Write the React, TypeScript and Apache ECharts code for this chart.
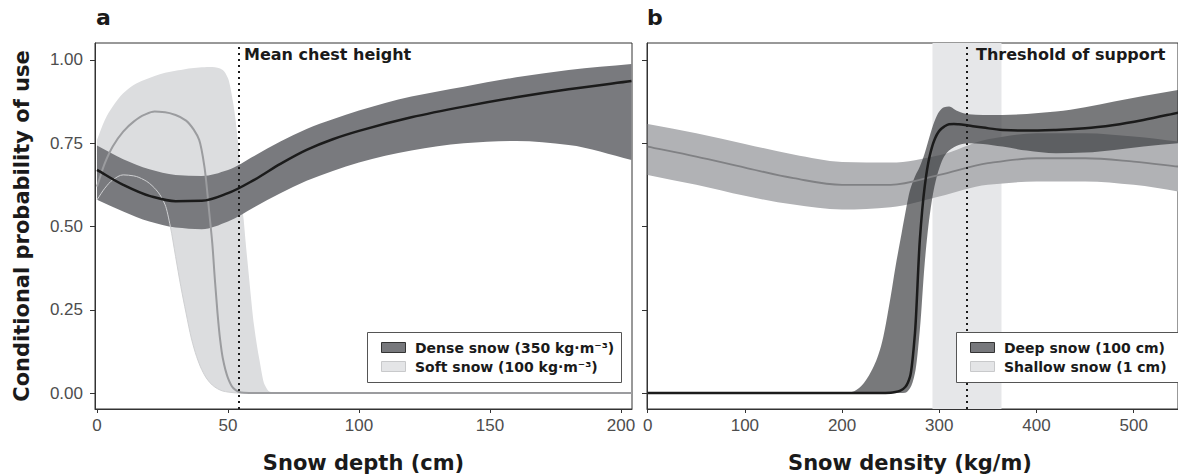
import React, { useEffect, useRef } from 'react';
import * as echarts from 'echarts';

// ---------- Panel a : snow depth ----------
const aTicksX = [0, 50, 100, 150, 200];
const aTicksY = [0, 0.25, 0.5, 0.75, 1];
const chestHeight = 54.2;

const aDenseX = [0, 10, 20, 30, 40, 50, 60, 70, 80, 90, 100, 120, 140, 160, 180, 204];
const aDenseMean = [0.670, 0.625, 0.592, 0.576, 0.577, 0.600, 0.640, 0.688, 0.730, 0.762, 0.787, 0.828, 0.860, 0.888, 0.912, 0.937];
const aDenseLo = [0.580, 0.545, 0.515, 0.497, 0.492, 0.515, 0.558, 0.600, 0.637, 0.667, 0.692, 0.728, 0.750, 0.757, 0.745, 0.700];
const aDenseHi = [0.743, 0.702, 0.672, 0.655, 0.652, 0.670, 0.712, 0.755, 0.793, 0.822, 0.848, 0.890, 0.920, 0.948, 0.970, 0.988];

const aSoftX = [0, 3, 6, 10, 14, 18, 22, 26, 28, 30, 32, 34, 36, 38, 40, 42, 44, 46, 48, 50, 52, 54, 56, 58, 60, 62, 64, 66, 70, 100, 150, 204];
const aSoftHi = [0.76, 0.82, 0.86, 0.90, 0.925, 0.94, 0.952, 0.962, 0.965, 0.968, 0.970, 0.973, 0.975, 0.977, 0.978, 0.979, 0.979, 0.977, 0.970, 0.945, 0.870, 0.740, 0.520, 0.350, 0.200, 0.100, 0.025, 0.004, 0, 0, 0, 0];
const aSoftLo = [0.58, 0.615, 0.64, 0.655, 0.652, 0.64, 0.615, 0.565, 0.50, 0.41, 0.32, 0.24, 0.165, 0.11, 0.07, 0.042, 0.024, 0.013, 0.006, 0.003, 0.001, 0, 0, 0, 0, 0, 0, 0, 0, 0, 0, 0];
const aSoftMeanX = [0, 3, 6, 10, 14, 18, 22, 26, 30, 34, 37, 39, 41, 43, 44, 45, 46, 47, 48, 50, 52, 54, 56, 60, 100, 150, 204];
const aSoftMean = [0.62, 0.69, 0.74, 0.785, 0.815, 0.835, 0.845, 0.843, 0.835, 0.818, 0.79, 0.76, 0.68, 0.53, 0.45, 0.34, 0.24, 0.16, 0.105, 0.045, 0.015, 0.004, 0.001, 0, 0, 0, 0];

// ---------- Panel b : snow density ----------
const bTicksX = [0, 100, 200, 300, 400, 500];
const threshold = 328;
const thresholdBand = [293, 364];

const bShallowX = [0, 50, 100, 150, 200, 250, 300, 350, 400, 450, 500, 546];
const bShallowMean = [0.740, 0.710, 0.677, 0.645, 0.625, 0.625, 0.655, 0.690, 0.705, 0.705, 0.695, 0.680];
const bShallowHi = [0.808, 0.780, 0.748, 0.716, 0.694, 0.692, 0.714, 0.762, 0.780, 0.780, 0.770, 0.755];
const bShallowLo = [0.655, 0.625, 0.592, 0.566, 0.551, 0.558, 0.590, 0.625, 0.635, 0.635, 0.625, 0.605];

const bDeepX = [0, 100, 200, 210, 220, 230, 240, 250, 255, 260, 265, 270, 275, 280, 285, 290, 295, 300, 305, 310, 315, 320, 330, 345, 365, 390, 420, 450, 480, 510, 546];
const bDeepHi = [0, 0, 0.0005, 0.003, 0.022, 0.065, 0.14, 0.29, 0.38, 0.46, 0.54, 0.61, 0.65, 0.68, 0.72, 0.77, 0.815, 0.845, 0.858, 0.86, 0.853, 0.845, 0.837, 0.835, 0.835, 0.838, 0.845, 0.858, 0.875, 0.892, 0.91];
const bDeepMean = [0, 0, 0, 0, 0, 0, 0, 0.001, 0.003, 0.007, 0.018, 0.05, 0.18, 0.46, 0.62, 0.71, 0.76, 0.787, 0.80, 0.807, 0.808, 0.807, 0.803, 0.797, 0.79, 0.788, 0.79, 0.795, 0.805, 0.82, 0.842];
const bDeepLo = [0, 0, 0, 0, 0, 0, 0, 0, 0, 0, 0.001, 0.015, 0.06, 0.19, 0.39, 0.53, 0.62, 0.675, 0.71, 0.728, 0.738, 0.745, 0.75, 0.748, 0.74, 0.728, 0.72, 0.722, 0.73, 0.74, 0.75];

// ---------- styles ----------
const BOLD = '"DejaVu Sans", Verdana, sans-serif';
const SANS = '"Liberation Sans", Arial, sans-serif';

const pairs = (xs: number[], ys: number[]) => xs.map((x, i) => [x, ys[i]]);

// monotone cubic segments (Fritsch–Carlson) through pixel points with increasing x
function monoSegs(p: number[][]) {
  const n = p.length;
  const d: number[] = [], m: number[] = [];
  for (let i = 0; i < n - 1; i++) {
    d.push(p[i + 1][0] - p[i][0]);
    m.push((p[i + 1][1] - p[i][1]) / (p[i + 1][0] - p[i][0] || 1e-9));
  }
  const t: number[] = new Array(n).fill(0);
  t[0] = m[0];
  t[n - 1] = m[n - 2];
  for (let i = 1; i < n - 1; i++) {
    if (m[i - 1] * m[i] <= 0) t[i] = 0;
    else t[i] = (3 * (d[i - 1] + d[i])) / ((2 * d[i] + d[i - 1]) / m[i - 1] + (d[i] + 2 * d[i - 1]) / m[i]);
  }
  const segs: number[][][] = [];
  for (let i = 0; i < n - 1; i++) {
    const h = d[i] / 3;
    segs.push([p[i], [p[i][0] + h, p[i][1] + t[i] * h], [p[i + 1][0] - h, p[i + 1][1] - t[i + 1] * h], p[i + 1]]);
  }
  return segs;
}
const f = (v: number) => v.toFixed(2);
function forwardPath(p: number[][]) {
  return monoSegs(p).map(s => `C${f(s[1][0])},${f(s[1][1])} ${f(s[2][0])},${f(s[2][1])} ${f(s[3][0])},${f(s[3][1])}`).join(' ');
}
function backwardPath(p: number[][]) {
  return monoSegs(p).reverse().map(s => `C${f(s[2][0])},${f(s[2][1])} ${f(s[1][0])},${f(s[1][1])} ${f(s[0][0])},${f(s[0][1])}`).join(' ');
}

function band(xs: number[], lo: number[], hi: number[], axis: number, color: string, z: number, extra: any = {}) {
  return {
    type: 'custom', xAxisIndex: axis, yAxisIndex: axis, z, silent: true, clip: true,
    data: [[xs[0], lo[0]]],
    encode: { x: 0, y: 1 },
    renderItem: (_params: any, api: any) => {
      const up = xs.map((x, i) => api.coord([x, hi[i]]));
      const dn = xs.map((x, i) => api.coord([x, lo[i]]));
      const last = dn[dn.length - 1];
      const d = `M${f(up[0][0])},${f(up[0][1])} ${forwardPath(up)} L${f(last[0])},${f(last[1])} ${backwardPath(dn)} Z`;
      return { type: 'path', shape: { pathData: d }, style: { fill: color, stroke: null } };
    },
    ...extra,
  };
}

function curve(xs: number[], ys: number[], axis: number, color: string, width: number, z: number, extra: any = {}) {
  return {
    type: 'custom', xAxisIndex: axis, yAxisIndex: axis, z, silent: true, clip: true,
    data: [[xs[0], ys[0]]],
    encode: { x: 0, y: 1 },
    renderItem: (_params: any, api: any) => {
      const pts = xs.map((x, i) => api.coord([x, ys[i]]));
      const d = `M${f(pts[0][0])},${f(pts[0][1])} ${forwardPath(pts)}`;
      return { type: 'path', shape: { pathData: d }, style: { fill: null, stroke: color, lineWidth: width, lineJoin: 'round' } };
    },
    ...extra,
  };
}

const dottedSeries = (axis: number, x: number, extraArea?: any) => ({
  type: 'line', xAxisIndex: axis, yAxisIndex: axis, data: [], silent: true, z: 7,
  markLine: {
    silent: true, symbol: ['none', 'none'], label: { show: false }, z: 7,
    lineStyle: { color: '#1a1a1a', width: 2, type: [2, 4] },
    data: [{ xAxis: x }],
  },
  ...(extraArea ? { markArea: extraArea } : {}),
});

function xAxisDef(grid: number, min: number, max: number, ticks: number[]) {
  return {
    type: 'value', gridIndex: grid, min, max,
    axisLine: { show: true, onZero: false, lineStyle: { color: '#333', width: 1 } },
    axisTick: { show: true, length: 4, customValues: ticks, lineStyle: { color: '#333' } },
    axisLabel: { customValues: ticks, fontFamily: SANS, fontSize: 17, color: '#4d4d4d', margin: 8 },
    splitLine: { show: false },
  };
}
function yAxisDef(grid: number, showLabels: boolean) {
  return {
    type: 'value', gridIndex: grid, min: -0.048, max: 1.051,
    axisLine: { show: true, onZero: false, lineStyle: { color: '#333', width: 1 } },
    axisTick: { show: true, length: 5, customValues: aTicksY, lineStyle: { color: '#333' } },
    axisLabel: {
      show: showLabels, customValues: aTicksY, fontFamily: SANS, fontSize: 17, color: '#4d4d4d', margin: 12,
      formatter: (v: number) => v.toFixed(2),
    },
    splitLine: { show: false },
  };
}

function legendBox(x: number, w: number, items: string[]) {
  return {
    type: 'group', z: 100,
    children: [
      { type: 'rect', z: 100, shape: { x: x + 0.5, y: 332.5, width: w, height: 50 }, style: { fill: '#fff', stroke: '#555', lineWidth: 1 } },
      { type: 'rect', z: 101, shape: { x: x + 14.5, y: 342.5, width: 24, height: 10 }, style: { fill: '#77787c', stroke: '#333', lineWidth: 1 } },
      { type: 'rect', z: 101, shape: { x: x + 14.5, y: 361.5, width: 24, height: 10 }, style: { fill: '#e4e5e7', stroke: '#c8c9cb', lineWidth: 1 } },
      { type: 'text', z: 101, x: x + 48, y: 347.5, style: { text: items[0], font: `bold 14px ${BOLD}`, fill: '#1a1a1a', verticalAlign: 'middle' } },
      { type: 'text', z: 101, x: x + 48, y: 367, style: { text: items[1], font: `bold 14px ${BOLD}`, fill: '#1a1a1a', verticalAlign: 'middle' } },
    ],
  };
}

const txt = (x: number, y: number, text: string, size: number, align = 'left', extra: any = {}) => ({
  type: 'text', z: 100, x, y, ...extra,
  style: { text, font: `bold ${size}px ${BOLD}`, fill: '#1a1a1a', align, verticalAlign: 'middle' },
});

export default function App() {
  const ref = useRef<HTMLDivElement>(null);
  useEffect(() => {
    const chart = echarts.init(ref.current!, null, { renderer: 'svg' });
    const option: any = {
      animation: false,
      backgroundColor: '#fff',
      grid: [
        { left: 95, top: 43, width: 537, height: 366, show: true, borderColor: '#333', borderWidth: 1 },
        { left: 647, top: 43, width: 531, height: 366, show: true, borderColor: '#333', borderWidth: 1 },
      ],
      xAxis: [xAxisDef(0, -0.76, 204.2, aTicksX), xAxisDef(1, -0.7, 545.6, bTicksX)],
      yAxis: [yAxisDef(0, true), yAxisDef(1, false)],
      series: [
        // panel a
        band(aSoftX, aSoftLo, aSoftHi, 0, '#dcdddf', 2),
        band(aDenseX, aDenseLo, aDenseHi, 0, '#797a7e', 3),
        curve(aSoftX, aSoftLo, 0, '#cfd0d2', 1, 4),
        curve(aSoftMeanX, aSoftMean, 0, '#9b9c9f', 2, 5),
        curve(aDenseX, aDenseMean, 0, '#1b1b1b', 2.5, 6),
        dottedSeries(0, chestHeight),
        // panel b
        dottedSeries(1, threshold, {
          silent: true, z: 1, itemStyle: { color: '#e6e7e9' },
          data: [[{ xAxis: thresholdBand[0] }, { xAxis: thresholdBand[1] }]],
        }),
        band(bShallowX, bShallowLo, bShallowHi, 1, '#b1b2b5', 2),
        band(bDeepX, bDeepLo, bDeepHi, 1, 'rgba(50,51,55,0.66)', 3),
        curve(bShallowX, bShallowMean, 1, '#808184', 1.8, 5),
        curve(bDeepX, bDeepMean, 1, '#1b1b1b', 2.5, 6),
      ],
      graphic: [
        txt(96, 17, 'a', 22),
        txt(647, 17, 'b', 22),
        txt(244, 54, 'Mean chest height', 16),
        txt(976, 54, 'Threshold of support', 16),
        txt(363.5, 463, 'Snow depth (cm)', 21, 'center'),
        txt(910, 463, 'Snow density (kg/m)', 21, 'center'),
        txt(22, 226, 'Conditional probability of use', 21, 'center', { rotation: Math.PI / 2 }),
        legendBox(367, 254, ['Dense snow (350 kg·m⁻³)', 'Soft snow (100 kg·m⁻³)']),
        legendBox(956, 240, ['Deep snow (100 cm)', 'Shallow snow (1 cm)']),
      ],
    };
    chart.setOption(option);
    return () => chart.dispose();
  }, []);
  return <div ref={ref} style={{ position: 'fixed', left: 0, top: 0, width: 1178, height: 475, background: '#fff' }} />;
}
